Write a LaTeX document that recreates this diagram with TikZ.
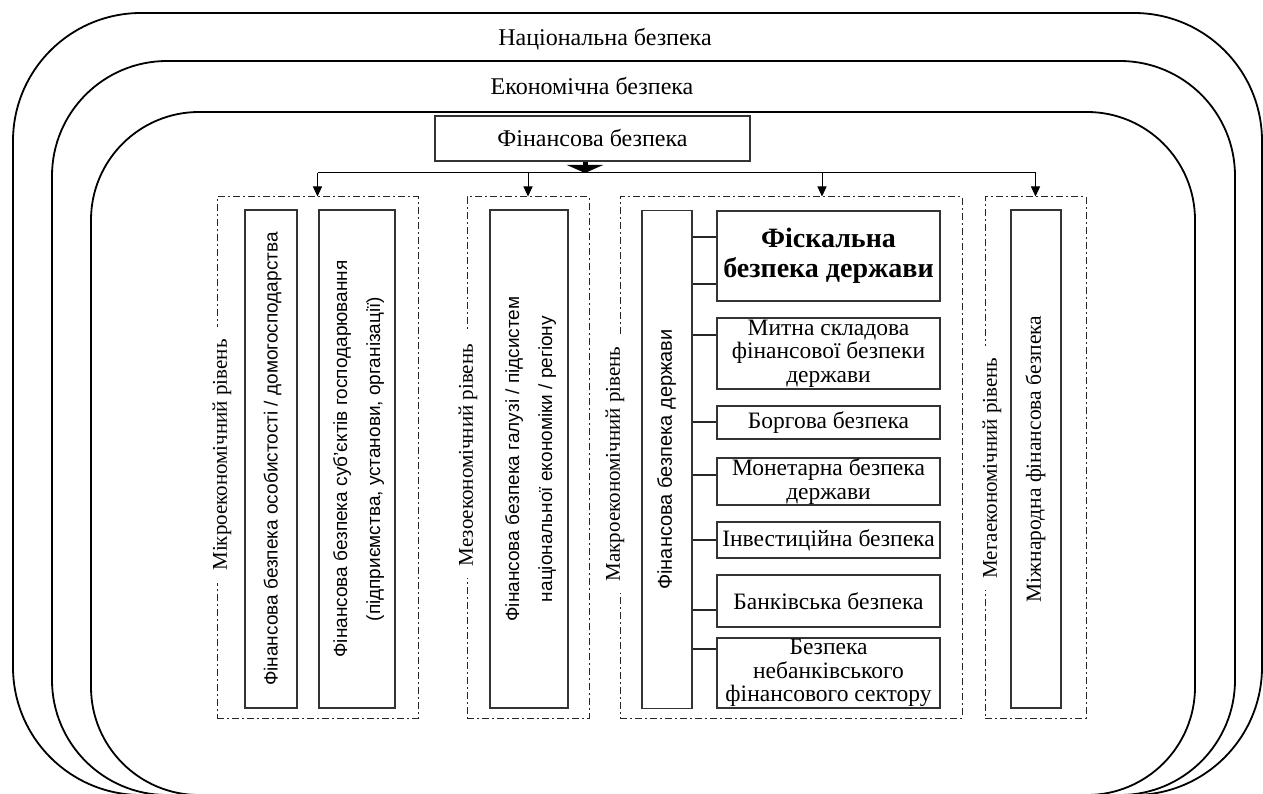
\documentclass[tikz,border=0pt]{standalone}
\usepackage{fontspec}
\usepackage{graphicx}
\setmainfont{Liberation Serif}
\newfontfamily\sansua{Liberation Sans}
\usetikzlibrary{arrows.meta, positioning}
\tikzstyle{ring}      = [line width=1.8pt, draw=black]
\tikzstyle{ringlabel} = [font=\fontsize{24}{28}\selectfont]
\tikzstyle{topbox}    = [rectangle, minimum width=315pt, minimum height=45pt,
                         text centered, draw=black!80, line width=1.3pt,
                         font=\fontsize{24}{28}\selectfont]
\tikzstyle{level}     = [rectangle, draw=black!85, line width=1pt,
                         dash pattern=on 7pt off 3pt on 2pt off 3pt, minimum height=521pt]
\tikzstyle{lvllabel}  = [rotate=90, fill=white, inner xsep=12pt, inner ysep=1pt,
                         font=\fontsize{21}{24}\selectfont]
\tikzstyle{vbox}      = [rectangle, draw=black!80, line width=1.3pt, minimum height=498pt,
                         inner sep=0pt, font=\sansua\fontsize{19}{33}\selectfont]
\tikzstyle{sub}       = [rectangle, draw=black!80, line width=1.3pt, minimum width=223pt,
                         align=center, inner sep=0pt, font=\fontsize{23.5}{23.6}\selectfont]
\tikzstyle{link}      = [line width=1.1pt, draw=black!85]
\tikzstyle{arrow}     = [-{Triangle[length=10pt, width=9pt]}, line width=1pt]
\tikzstyle{bigarrow}  = [-{Triangle[length=8pt, width=36pt]}, line width=5pt]
\newcommand{\vtext}[1]{\rotatebox{90}{\begin{tabular}{@{}c@{}}#1\end{tabular}}}

\begin{document}
\begin{tikzpicture}[x=1pt, y=-1pt]
  \useasboundingbox (0,0) rectangle (1263,794);
  \clip (0,0) rectangle (1263,794);

  % Nested rings
  \draw[ring, rounded corners=128pt] (13,13) rectangle (1262,795);
  \draw[ring, rounded corners=115pt] (52,61) rectangle (1235,795);
  \draw[ring, rounded corners=108pt] (91,112) rectangle (1195,795);
  \node (nat)  [ringlabel] at (605,39) {Національна безпека};
  \node (econ) [ringlabel] at (592,86) {Економічна безпека};
  \node (fin)  [topbox]    at (592.5,138.5) {Фінансова безпека};

  % Levels
  \node (micro) [level, minimum width=201pt] at (317.5,457.5) {};
  \node (meso)  [level, minimum width=122pt] at (528,457.5) {};
  \node (macro) [level, minimum width=342pt] at (791,457.5) {};
  \node (mega)  [level, minimum width=101pt] at (1035.5,457.5) {};
  \node (microlbl) [lvllabel] at (222,455)  {Мікроекономічний рівень};
  \node (mesolbl)  [lvllabel] at (468,455)  {Мезоекономічний рівень};
  \node (macrolbl) [lvllabel] at (615,464)  {Макроекономічний рівень};
  \node (megalbl)  [lvllabel] at (992,468)  {Мегаекономічний рівень};

  % Micro and meso
  \node (person) [vbox, minimum width=52pt] at (271,459)
                 {\vtext{Фінансова безпека особистості / домогосподарства}};
  \node (firm)   [vbox, minimum width=76pt] at (357,459)
                 {\vtext{Фінансова безпека суб’єктів господарювання\\(підприємства, установи, організації)}};
  \node (branch) [vbox, minimum width=78pt] at (529,459)
                 {\vtext{Фінансова безпека галузі / підсистем\\національної економіки / регіону}};

  % Macro
  \node (state)  [vbox, minimum width=50pt, font=\sansua\fontsize{20}{24}\selectfont]
                 at (667,459.5) {\vtext{Фінансова безпека держави}};
  \node (fiscal) [sub, minimum height=90pt, font=\bfseries\fontsize{28}{30}\selectfont]
                 at (828.5,256) {Фіскальна\\безпека держави};
  \node (custom) [sub, minimum height=71pt] at (828.5,353.5) {Митна складова\\фінансової безпеки\\держави};
  \node (debt)   [sub, minimum height=33pt] at (828.5,422.5) {Боргова безпека};
  \node (money)  [sub, minimum height=47pt] at (828.5,481.5) {Монетарна безпека\\держави};
  \node (invest) [sub, minimum height=36pt] at (828.5,540)   {Інвестиційна безпека};
  \node (bank)   [sub, minimum height=52pt] at (828.5,601)   {Банківська безпека};
  \node (nonbank)[sub, minimum height=70pt] at (828.5,673)   {Безпека\\небанківського\\фінансового сектору};

  % Mega
  \node (world)  [vbox, minimum width=50pt, font=\fontsize{21.5}{24}\selectfont]
                 at (1036,459) {\vtext{Міжнародна фінансова безпека}};

  \draw [link] (state.east |- 0,237) -- (fiscal.west |- 0,237);
  \draw [link] (state.east |- 0,284) -- (fiscal.west |- 0,284);
  \draw [link] (state.east |- 0,335) -- (custom.west |- 0,335);
  \draw [link] (state.east |- 0,422) -- (debt.west |- 0,422);
  \draw [link] (state.east |- 0,475) -- (money.west |- 0,475);
  \draw [link] (state.east |- 0,540) -- (invest.west |- 0,540);
  \draw [link] (state.east |- 0,610) -- (bank.west |- 0,610);
  \draw [link] (state.east |- 0,649) -- (nonbank.west |- 0,649);

  % Distribution
  \coordinate (bus) at (585,173);
  \draw [bigarrow] (fin.south -| bus) -- (bus);
  \draw [line width=1pt] (micro.north |- bus) -- (mega.north |- bus);
  \draw [arrow] (micro.north |- bus) -- (micro.north);
  \draw [arrow] (meso.north |- bus)  -- (meso.north);
  \draw [arrow] ([xshift=31pt]macro.north |- bus) -- ([xshift=31pt]macro.north);
  \draw [arrow] (mega.north |- bus)  -- (mega.north);
\end{tikzpicture}
\end{document}
